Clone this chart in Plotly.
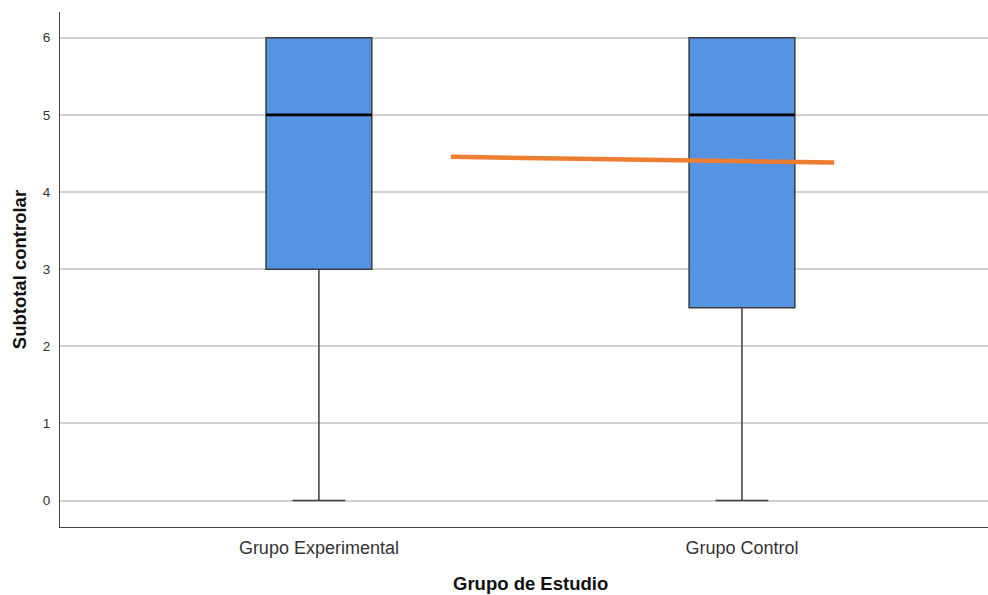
import plotly.graph_objects as go

# Data
categories = ["Grupo Experimental", "Grupo Control"]
x_pos = [0, 1]
q1 = [3.0, 2.5]
median = [5.0, 5.0]
q3 = [6.0, 6.0]
lower_fence = [0.0, 0.0]
upper_fence = [6.0, 6.0]

# orange reference line
line_x = [0.312, 1.218]
line_y = [4.456, 4.382]

y_ticks = [0, 1, 2, 3, 4, 5, 6]

BOX_W = 0.25
FILL = "#5594E3"
OUTLINE = "#3C3C3C"

fig = go.Figure()

for i, cat in enumerate(categories):
    fig.add_trace(go.Box(
        x=[x_pos[i]],
        q1=[q1[i]], median=[median[i]], q3=[q3[i]],
        lowerfence=[lower_fence[i]], upperfence=[upper_fence[i]],
        width=BOX_W,
        whiskerwidth=0.5,
        fillcolor=FILL,
        line=dict(color=OUTLINE, width=1.5),
        boxpoints=False,
        hoverinfo="skip",
        showlegend=False,
        name=cat,
    ))
    # thick black median line
    fig.add_trace(go.Scatter(
        x=[x_pos[i] - BOX_W / 2, x_pos[i] + BOX_W / 2],
        y=[median[i], median[i]],
        mode="lines",
        line=dict(color="black", width=2.6),
        hoverinfo="skip",
        showlegend=False,
    ))

fig.add_trace(go.Scatter(
    x=line_x, y=line_y, mode="lines",
    line=dict(color="#ED7D31", width=4.5),
    hoverinfo="skip", showlegend=False,
))

FONT = "Liberation Sans, Arial, sans-serif"

fig.update_layout(
    width=988, height=595,
    margin=dict(l=60, r=0, t=12, b=68),
    paper_bgcolor="white",
    plot_bgcolor="white",
    font=dict(family=FONT, color="#222222"),
    xaxis=dict(
        range=[-0.612, 1.5816],
        tickmode="array",
        tickvals=x_pos,
        ticktext=categories,
        tickfont=dict(size=18, color="#333333"),
        showgrid=False,
        zeroline=False,
        showline=True,
        linecolor="#444444",
        linewidth=1.2,
        ticks="",
        ticklen=0,
        ticklabelstandoff=4,
        fixedrange=True,
    ),
    yaxis=dict(
        range=[-0.343, 6.334],
        tickmode="array",
        tickvals=y_ticks,
        ticktext=[str(v) for v in y_ticks],
        tickfont=dict(size=13.5, color="#333333"),
        showgrid=True,
        gridcolor="#D2D2D2",
        gridwidth=1.5,
        zeroline=False,
        showline=True,
        linecolor="#444444",
        linewidth=1.2,
        ticks="",
        ticklabelstandoff=6,
        fixedrange=True,
    ),
    annotations=[
        dict(text="<b>Grupo de Estudio</b>", xref="paper", yref="paper",
             x=(530 - 60) / 928, y=(527 - 583) / 515,
             xanchor="center", yanchor="middle", showarrow=False,
             font=dict(size=18.5, family=FONT, color="#111111")),
        dict(text="<b>Subtotal controlar</b>", xref="paper", yref="paper",
             x=(19.7 - 60) / 928, y=0.5,
             xanchor="center", yanchor="middle", showarrow=False,
             textangle=-90,
             font=dict(size=18.5, family=FONT, color="#111111")),
    ],
)

fig.write_html(
    "out.html",
    config={"displayModeBar": False},
    post_script="document.body.style.margin='0';document.body.style.padding='0';document.body.style.overflow='hidden';",
)
